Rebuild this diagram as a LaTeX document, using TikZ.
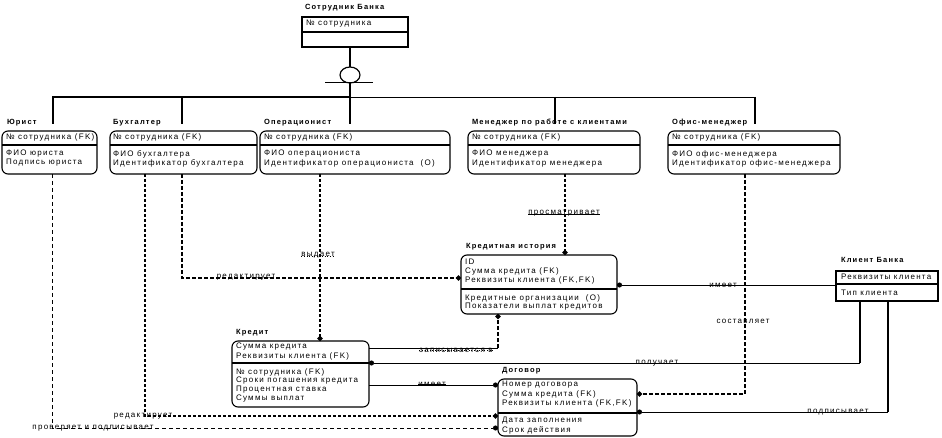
\documentclass[tikz,border=0pt]{standalone}
\usepackage{fontspec}
\usetikzlibrary{arrows.meta,shapes.geometric}
\newfontfamily\rowfam{Liberation Sans}[LetterSpace=16]
\newfontfamily\ttlfam{Liberation Sans Bold}[LetterSpace=16]
\newcommand\myrow{\rowfam\fontsize{8}{9}\selectfont}
\newcommand\myttl{\ttlfam\fontsize{7.5}{9}\selectfont}
\begin{document}
\begin{tikzpicture}[x=1pt,y=-1pt,
  every node/.style={inner sep=0pt, outer sep=0pt},
  ent/.style={draw, line width=1.1pt, rounded corners=6pt, anchor=north west},
  sq/.style={draw, line width=1.1pt, anchor=north west},
  txt/.style={anchor=west, font=\myrow},
  ttl/.style={anchor=west, font=\myttl},
  lab/.style={font=\myrow},
  thk/.style={line width=2pt},
  rel/.style={line width=0.9pt},
  hvy/.style={line width=2.2pt, dash pattern=on 3pt off 2pt},
  mdd/.style={line width=1.3pt, dash pattern=on 4pt off 2pt},
  thd/.style={line width=0.9pt, dash pattern=on 4pt off 3pt},
  dot/.style={-{Circle[length=5pt]}},
  div/.style={line width=1.1pt}
]
\useasboundingbox (0,0) rectangle (942,438);

% ---- Сотрудник Банка
\node[ttl] (tSB) at (305,8) {Сотрудник Банка};
\node[sq, minimum width=106pt, minimum height=30pt] (SB) at (302,17) {};
\draw[div] (302,32) -- (408,32);
\node[txt] (SB1) at (306,24) {№ сотрудника};

% subtype symbol
\node[draw, ellipse, line width=1.2pt, minimum width=20pt, minimum height=16pt] (circ) at (350,75) {};
\coordinate (sbb) at (350,47);
\coordinate (hl1) at (325,82);
\coordinate (hl2) at (373,82);
\coordinate (busJ) at (350,97);
\coordinate (bus0) at (53,97);
\coordinate (bus1) at (182,97);
\coordinate (bus3) at (555,97);
\coordinate (bus4) at (755,97);
\coordinate (jurT) at (53,124);
\coordinate (buhT) at (182,124);
\coordinate (opT) at (350,124);
\coordinate (manT) at (555,124);
\coordinate (offT) at (755,124);
\draw[thk] (sbb) -- (circ.north);
\draw[rel] (hl1) -- (hl2);
\draw[thk] (circ.south) -- (opT);
\draw[thk] (jurT) -- (bus0) -- (busJ);
\draw[rel] (busJ) -- (bus4);
\draw[thk] (bus1) -- (buhT);
\draw[thk] (bus3) -- (manT);
\draw[thk] (bus4) -- (offT);

% ---- Юрист
\node[ttl] (tJ) at (7,123) {Юрист};
\node[ent, minimum width=95pt, minimum height=43pt] (jur) at (2,131) {};
\draw[div] (2,145) -- (97,145);
\node[txt] (J1) at (6,137) {№ сотрудника (FK)};
\node[txt] (J2) at (6,154) {ФИО юриста};
\node[txt] (J3) at (6,163) {Подпись юриста};

% ---- Бухгалтер
\node[ttl] (tB) at (113,123) {Бухгалтер};
\node[ent, minimum width=147pt, minimum height=43pt] (buh) at (110,131) {};
\draw[div] (110,145) -- (257,145);
\node[txt] (B1) at (113,137) {№ сотрудника (FK)};
\node[txt] (B2) at (113,154) {ФИО бухгалтера};
\node[txt] (B3) at (113,163) {Идентификатор бухгалтера};

% ---- Операционист
\node[ttl] (tO) at (264,123) {Операционист};
\node[ent, minimum width=190pt, minimum height=43pt] (op) at (260,131) {};
\draw[div] (260,145) -- (450,145);
\node[txt] (O1) at (264,137) {№ сотрудника (FK)};
\node[txt] (O2) at (264,154) {ФИО операциониста};
\node[txt] (O3) at (264,163) {Идентификатор операциониста\ \ (O)};

% ---- Менеджер
\node[ttl] (tM) at (472,123) {Менеджер по работе с клиентами};
\node[ent, minimum width=172pt, minimum height=43pt] (man) at (468,131) {};
\draw[div] (468,145) -- (640,145);
\node[txt] (M1) at (472,137) {№ сотрудника (FK)};
\node[txt] (M2) at (472,154) {ФИО менеджера};
\node[txt] (M3) at (472,163) {Идентификатор менеджера};

% ---- Офис-менеджер
\node[ttl] (tF) at (672,123) {Офис-менеджер};
\node[ent, minimum width=172pt, minimum height=43pt] (off) at (668,131) {};
\draw[div] (668,145) -- (840,145);
\node[txt] (F1) at (672,137) {№ сотрудника (FK)};
\node[txt] (F2) at (672,154) {ФИО офис-менеджера};
\node[txt] (F3) at (672,163) {Идентификатор офис-менеджера};

% ---- Кредитная история
\node[ttl] (tK) at (466,247) {Кредитная история};
\node[ent, minimum width=156pt, minimum height=59pt] (ki) at (461,255) {};
\draw[div] (461,289) -- (617,289);
\node[txt] (K1) at (465,262) {ID};
\node[txt] (K2) at (465,271) {Сумма кредита (FK)};
\node[txt] (K3) at (465,280) {Реквизиты клиента (FK,FK)};
\node[txt] (K4) at (465,298) {Кредитные организации\ \ (O)};
\node[txt] (K5) at (465,307) {Показатели выплат кредитов};

% ---- Клиент Банка
\node[ttl] (tC) at (841,260) {Клиент Банка};
\node[sq, minimum width=102pt, minimum height=30pt] (cl) at (836,271) {};
\draw[div] (836,284) -- (938,284);
\node[txt] (C1) at (841,277) {Реквизиты клиента};
\node[txt] (C2) at (841,293) {Тип клиента};

% ---- Кредит
\node[ttl] (tKr) at (236,333) {Кредит};
\node[ent, minimum width=137pt, minimum height=66pt] (kr) at (232,341) {};
\draw[div] (232,363) -- (369,363);
\node[txt] (R1) at (236,347) {Сумма кредита};
\node[txt] (R2) at (236,356) {Реквизиты клиента (FK)};
\node[txt] (R3) at (236,372) {№ сотрудника (FK)};
\node[txt] (R4) at (236,381) {Сроки погашения кредита};
\node[txt] (R5) at (236,390) {Процентная ставка};
\node[txt] (R6) at (236,399) {Суммы выплат};

% ---- Договор
\node[ttl] (tD) at (502,371) {Договор};
\node[ent, minimum width=139pt, minimum height=57pt] (dg) at (498,379) {};
\draw[div] (498,413) -- (637,413);
\node[txt] (D1) at (502,385) {Номер договора};
\node[txt] (D2) at (502,394) {Сумма кредита (FK)};
\node[txt] (D3) at (502,403) {Реквизиты клиента (FK,FK)};
\node[txt] (D4) at (502,421) {Дата заполнения};
\node[txt] (D5) at (502,430) {Срок действия};

% ---- connection points
\coordinate (manB) at (565,174);
\coordinate (kiT) at (565,255);
\coordinate (opB) at (320,174);
\coordinate (krT) at (320,341);
\coordinate (buhB1) at (182,174);
\coordinate (c1) at (182,278);
\coordinate (kiL) at (461,278);
\coordinate (buhB2) at (145,174);
\coordinate (c2) at (145,416);
\coordinate (dgL2) at (498,416);
\coordinate (jurB) at (52,174);
\coordinate (c3) at (52,428);
\coordinate (dgL3) at (498,428);
\coordinate (krR1) at (369,348);
\coordinate (c4) at (498,348);
\coordinate (kiB) at (498,314);
\coordinate (clB1) at (860,301);
\coordinate (c5) at (860,363);
\coordinate (krR2) at (369,363);
\coordinate (clB2) at (888,301);
\coordinate (c6) at (888,412);
\coordinate (dgR2) at (637,412);
\coordinate (kiR) at (617,285);
\coordinate (clL) at (836,285);
\coordinate (offB) at (745,174);
\coordinate (c7) at (745,394);
\coordinate (dgR1) at (637,394);
\coordinate (krR3) at (369,385);
\coordinate (dgL1) at (498,385);

% ---- relationships
\draw[hvy,dot] (manB) -- (kiT);
\node[lab] (lPr) at (564,213) {просматривает};
\draw[line width=0.6pt] ([yshift=1.5pt]lPr.south west) -- ([yshift=1.5pt]lPr.south east);

\draw[hvy,dot] (opB) -- (krT);
\node[lab] (lVy) at (318,255) {выдает};
\draw[line width=0.6pt, dotted] ([yshift=1.5pt]lVy.south west) -- ([yshift=1.5pt]lVy.south east);

\draw[mdd,dot] (buhB1) -- (c1) -- (kiL);
\node[lab] (lRe1) at (246,277) {редактирует};

\draw[hvy,dot] (buhB2) -- (c2) -- (dgL2);
\node[lab] (lRe2) at (143,416) {редактирует};

\draw[thd,dot] (jurB) -- (c3) -- (dgL3);
\node[lab] (lPP) at (93,428) {проверяет и подписывает};

\draw[rel] (krR1) -- (c4);
\draw[mdd,dot] (c4) -- (kiB);
\node[lab] (lZa) at (456,350) {записывается в};
\draw[line width=0.6pt, dotted] ([yshift=1.5pt]lZa.south west) -- ([yshift=1.5pt]lZa.south east);

\draw[thk] (clB1) -- (c5);
\draw[rel,dot] (c5) -- (krR2);
\node[lab] (lPo) at (657,363) {получает};

\draw[thk] (clB2) -- (c6);
\draw[rel,dot] (c6) -- (dgR2);
\node[lab] (lPd) at (838,412) {подписывает};

\draw[rel,{Circle[length=5pt]}-] (kiR) -- (clL);
\node[lab] (lIm1) at (723,285) {имеет};

\draw[mdd,dot] (offB) -- (c7) -- (dgR1);
\node[lab] (lSo) at (743,321) {составляет};

\draw[rel,dot] (krR3) -- (dgL1);
\node[lab] (lIm2) at (432,384) {имеет};
\draw[line width=0.6pt] ([yshift=1.5pt]lIm2.south west) -- ([yshift=1.5pt]lIm2.south east);
\end{tikzpicture}
\end{document}
